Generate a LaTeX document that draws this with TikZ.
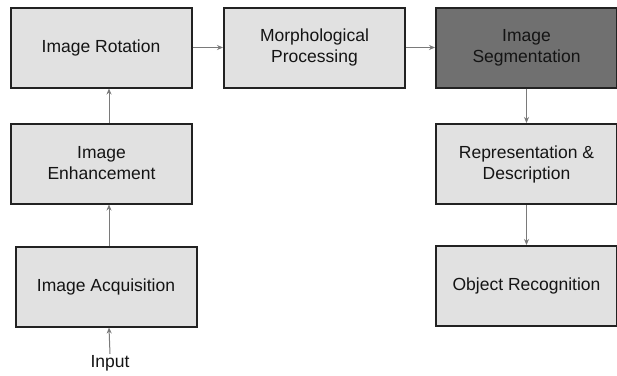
\documentclass[tikz,border=0pt]{standalone}
\usepackage{fontspec}
\setmainfont{Liberation Sans}
\usetikzlibrary{arrows.meta}
\definecolor{boxfill}{HTML}{E1E1E1}
\definecolor{darkfill}{HTML}{707070}
\definecolor{edge}{HTML}{222222}
\definecolor{arr}{HTML}{7A7A7A}
\begin{document}
\begin{tikzpicture}[x=1pt,y=-1pt,
  box/.style={draw=edge,line width=2pt,fill=boxfill,inner sep=0pt,
    minimum width=181pt,minimum height=80pt,align=center,
    font=\fontsize{17.5}{21}\selectfont,text=black!92},
  conn/.style={draw=arr,line width=1pt,-{Stealth[length=6pt,width=5pt]}}]
\useasboundingbox[fill=white] (0,0) rectangle (617,375);
\node[box] (rot) at (101,47.5) {Image Rotation};
\node[box] (morph) at (314.5,47.5) {Morphological\\Processing};
\node[box,fill=darkfill] (seg) at (526.5,47.5) {Image\\Segmentation};
\node[box] (rep) at (526.5,164) {Representation \&\\Description};
\node[box] (obj) at (526.5,286) {Object Recognition};
\node[box] (enh) at (101.5,163.5) {Image\\Enhancement};
\node[box] (acq) at (106,286.5) {Image Acquisition};
\node[font=\fontsize{17.5}{21}\selectfont,text=black!92,inner sep=1pt] (in) at (110,363) {Input};
\coordinate (col) at (109,0);
\draw[conn] (rot.east) -- (morph.west);
\draw[conn] (morph.east) -- (seg.west);
\draw[conn] (seg.south) -- (rep.north);
\draw[conn] (rep.south) -- (obj.north);
\draw[conn] (acq.north -| col) -- (enh.south -| col);
\draw[conn] (enh.north -| col) -- (rot.south -| col);
\draw[conn] (in.north) -- (acq.south -| col);
\end{tikzpicture}
\end{document}
